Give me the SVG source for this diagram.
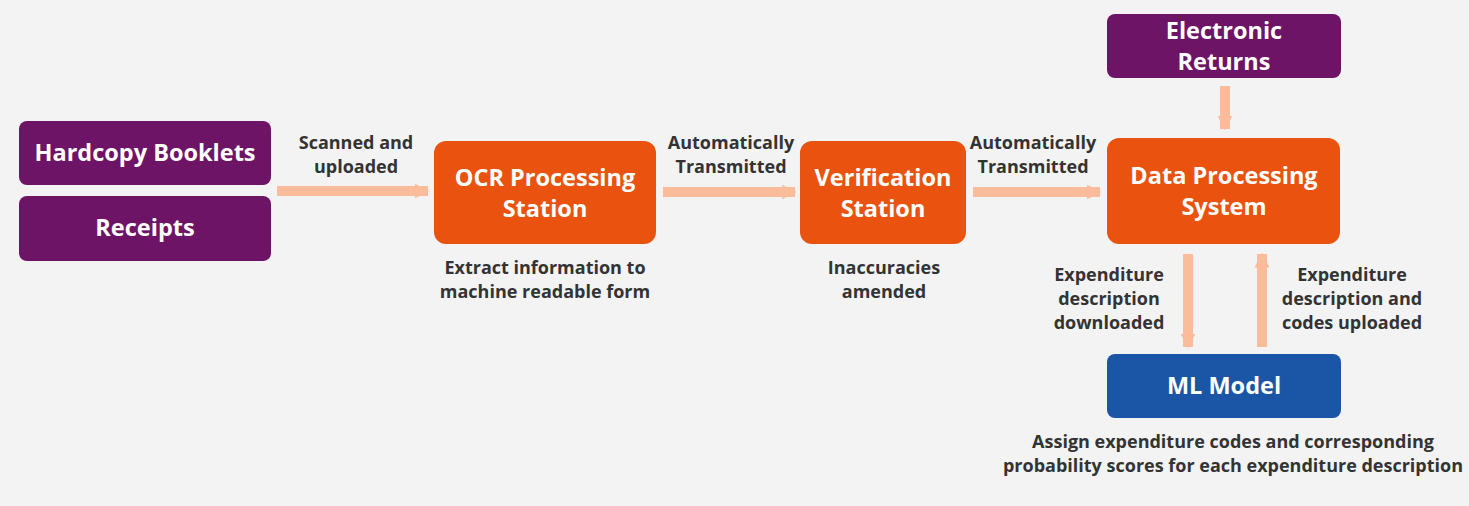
<svg xmlns="http://www.w3.org/2000/svg" width="1469" height="506" viewBox="0 0 1469 506">
<defs>
<style>
.bg{fill:#f3f3f3}
.purple{fill:#6d1466}
.orange{fill:#e9530f}
.blue{fill:#1b55a6}
.nt{font-family:"Open Sans","Liberation Sans",sans-serif;font-weight:700;font-size:23.5px;fill:#ffffff;text-anchor:middle}
.lb{font-family:"Open Sans","Liberation Sans",sans-serif;font-weight:700;font-size:18px;fill:#333333;text-anchor:middle}
.conn{stroke:#fbbc9c;stroke-width:10;fill:none}
</style>
<marker id="ah" viewBox="0 0 10 10" refX="9" refY="5" markerWidth="1.5" markerHeight="1.8" orient="auto" markerUnits="strokeWidth">
<path d="M0,0 L10,5 L0,10 Z" fill="#fbbc9c"/>
</marker>
</defs>
<rect class="bg" x="0" y="0" width="1469" height="506"/>
<g id="connectors">
<line class="conn" x1="277" y1="191" x2="428" y2="191" marker-end="url(#ah)"/>
<line class="conn" x1="663" y1="192" x2="795" y2="192" marker-end="url(#ah)"/>
<line class="conn" x1="973" y1="192" x2="1100" y2="192" marker-end="url(#ah)"/>
<line class="conn" x1="1225" y1="86" x2="1225" y2="129" marker-end="url(#ah)"/>
<line class="conn" x1="1188" y1="254" x2="1188" y2="347" marker-end="url(#ah)"/>
<line class="conn" x1="1262" y1="347" x2="1262" y2="254" marker-end="url(#ah)"/>
</g>
<g id="hardcopy">
<rect class="purple" x="19" y="121" width="252" height="64" rx="8"/>
<text class="nt" x="145" y="161">Hardcopy Booklets</text>
</g>
<g id="receipts">
<rect class="purple" x="19" y="196" width="252" height="65" rx="8"/>
<text class="nt" x="145" y="236">Receipts</text>
</g>
<g id="ocr">
<rect class="orange" x="434" y="141" width="222" height="103" rx="12"/>
<text class="nt" x="545" y="186">OCR Processing</text>
<text class="nt" x="545" y="217">Station</text>
</g>
<g id="verification">
<rect class="orange" x="800" y="141" width="166" height="103" rx="12"/>
<text class="nt" x="883" y="186">Verification</text>
<text class="nt" x="883" y="217">Station</text>
</g>
<g id="dps">
<rect class="orange" x="1107" y="138" width="233" height="106" rx="12"/>
<text class="nt" x="1224" y="184">Data Processing</text>
<text class="nt" x="1224" y="215">System</text>
</g>
<g id="electronic">
<rect class="purple" x="1107" y="14" width="234" height="64" rx="8"/>
<text class="nt" x="1224" y="39">Electronic</text>
<text class="nt" x="1224" y="70">Returns</text>
</g>
<g id="ml">
<rect class="blue" x="1107" y="354" width="234" height="64" rx="8"/>
<text class="nt" x="1224" y="394">ML Model</text>
</g>
<g id="labels">
<text class="lb" x="356" y="149">Scanned and</text>
<text class="lb" x="356" y="173">uploaded</text>
<text class="lb" x="731" y="149">Automatically</text>
<text class="lb" x="731" y="173">Transmitted</text>
<text class="lb" x="1033" y="149">Automatically</text>
<text class="lb" x="1033" y="173">Transmitted</text>
<text class="lb" x="545" y="274">Extract information to</text>
<text class="lb" x="545" y="298">machine readable form</text>
<text class="lb" x="884" y="274">Inaccuracies</text>
<text class="lb" x="884" y="298">amended</text>
<text class="lb" x="1109" y="281">Expenditure</text>
<text class="lb" x="1109" y="305">description</text>
<text class="lb" x="1109" y="329">downloaded</text>
<text class="lb" x="1352" y="281">Expenditure</text>
<text class="lb" x="1352" y="305">description and</text>
<text class="lb" x="1352" y="329">codes uploaded</text>
<text class="lb" x="1233" y="448">Assign expenditure codes and corresponding</text>
<text class="lb" x="1233" y="472">probability scores for each expenditure description</text>
</g>
</svg>
